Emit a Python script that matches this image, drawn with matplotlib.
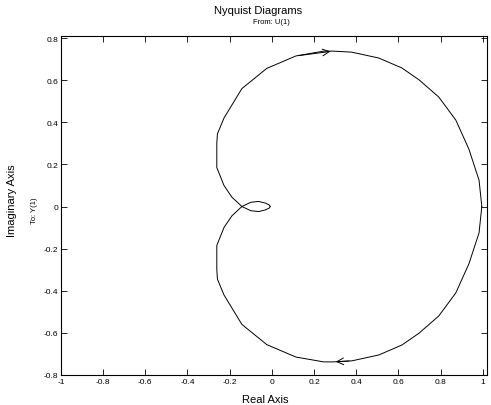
import matplotlib
matplotlib.use("Agg")
import matplotlib.pyplot as plt

# positive-frequency branch (omega = 0 -> inf)
re_pos = [0.995, 0.982, 0.934, 0.872, 0.791, 0.697, 0.616, 0.507, 0.379,
          0.290, 0.246, 0.114, -0.024, -0.142, -0.227, -0.258, -0.261,
          -0.261, -0.227, -0.190, -0.142, -0.100, -0.062, -0.030, -0.012, -0.008]
im_pos = [0.0, -0.125, -0.272, -0.410, -0.520, -0.602, -0.658, -0.705, -0.733,
          -0.738, -0.738, -0.715, -0.656, -0.560, -0.420, -0.345, -0.300,
          -0.185, -0.100, -0.045, 0.0, 0.020, 0.024, 0.016, 0.007, 0.0]

# negative frequencies are the mirror image, traversed back to omega = 0
re_neg = re_pos[::-1]
im_neg = [-v for v in im_pos[::-1]]

x_ticks = [-1, -0.8, -0.6, -0.4, -0.2, 0, 0.2, 0.4, 0.6, 0.8, 1]
y_ticks = [-0.8, -0.6, -0.4, -0.2, 0, 0.2, 0.4, 0.6, 0.8]

plt.rcParams['font.family'] = ['Liberation Sans', 'DejaVu Sans']

fig = plt.figure(figsize=(4.91, 4.06), dpi=100)
ax = fig.add_axes([0.124, 0.074, 0.868, 0.835])

ax.plot(re_pos, im_pos, color='black', lw=0.7)
ax.plot(re_neg, im_neg, color='black', lw=0.7)

# direction arrows (open chevrons like MATLAB)
arrow = dict(arrowstyle='->', color='black', lw=0.7, mutation_scale=12)
ax.annotate('', xy=(re_neg[-10], im_neg[-10]), xytext=(re_neg[-12], im_neg[-12]),
            arrowprops=arrow)
ax.annotate('', xy=(re_pos[9], im_pos[9]), xytext=(re_pos[8], im_pos[8]),
            arrowprops=arrow)

ax.set_xlim(-1, 1.02)
ax.set_ylim(-0.8, 0.81)
ax.set_xticks(x_ticks)
ax.set_yticks(y_ticks)
ax.set_xticklabels([f"{v:g}" for v in x_ticks])
ax.set_yticklabels([f"{v:g}" for v in y_ticks])
ax.tick_params(direction='in', top=True, right=True, labelsize=6,
               length=4, width=0.6, pad=2)
for s in ax.spines.values():
    s.set_linewidth(0.8)

fig.text(0.525, 0.972, "Nyquist Diagrams", ha='center', va='center', fontsize=8)
fig.text(0.552, 0.945, "From: U(1)", ha='center', va='center', fontsize=5.5)
fig.text(0.540, 0.016, "Real Axis", ha='center', va='center', fontsize=8)
fig.text(0.025, 0.505, "Imaginary Axis", ha='center', va='center',
         rotation=90, fontsize=8)
fig.text(0.070, 0.48, "To: Y(1)", ha='center', va='center',
         rotation=90, fontsize=5.5)

fig.savefig("out.png", dpi=100)
